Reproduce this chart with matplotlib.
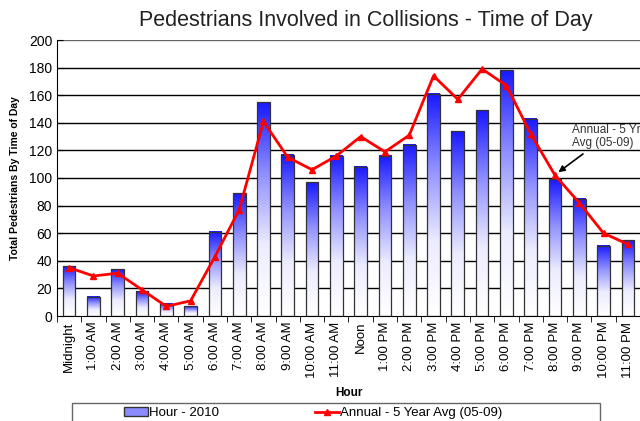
import numpy as np
import matplotlib
matplotlib.use("Agg")
import matplotlib.pyplot as plt
from matplotlib.colors import LinearSegmentedColormap
from matplotlib.patches import Patch, Rectangle

plt.rcParams['font.family'] = ['Liberation Sans', 'DejaVu Sans']

hours = ['Midnight', '1:00 AM', '2:00 AM', '3:00 AM', '4:00 AM', '5:00 AM',
         '6:00 AM', '7:00 AM', '8:00 AM', '9:00 AM', '10:00 AM', '11:00 AM',
         'Noon', '1:00 PM', '2:00 PM', '3:00 PM', '4:00 PM', '5:00 PM',
         '6:00 PM', '7:00 PM', '8:00 PM', '9:00 PM', '10:00 PM', '11:00 PM']
count_2010 = [36, 14, 34, 18, 9, 7, 61, 89, 155, 117, 97, 116,
              108, 116, 124, 161, 134, 149, 178, 143, 99, 85, 51, 55]
avg_05_09 = [35, 29, 31, 19, 7, 11, 43, 77, 141, 115, 106, 116,
             130, 119, 131, 174, 157, 179, 167, 132, 102, 82, 60, 52]

fig = plt.figure(figsize=(6.4, 4.21), dpi=100)
ax = fig.add_axes([57 / 640, 1 - 316 / 421, 583 / 640, 276 / 421])

x = np.arange(len(hours))
w = 0.52
grad = LinearSegmentedColormap.from_list('g', ['#ffffff', '#ececff', '#9090ff', '#1a1aff'])
img = np.linspace(0, 1, 100).reshape(-1, 1)

for yv in range(20, 201, 20):
    ax.axhline(yv, color='black' if yv < 200 else '#666666', lw=1, zorder=1)

for xi, h in zip(x, count_2010):
    ax.imshow(img, extent=[xi - w / 2, xi + w / 2, 0, h], origin='lower',
              cmap=grad, aspect='auto', zorder=2)
ax.bar(x, count_2010, width=w, facecolor='none', edgecolor='#333333', lw=0.9, zorder=3)
line, = ax.plot(x, avg_05_09, color='#ff0000', lw=2, marker='^', ms=4, zorder=4)

ax.set_xlim(-0.5, len(hours) - 0.5)
ax.set_ylim(0, 200)
ax.set_yticks(range(0, 201, 20))
ax.set_xticks(x)
ax.set_xticklabels(hours, rotation=90, fontsize=9.5)
ax.set_xticks(np.arange(-0.5, len(hours), 1), minor=True)
ax.tick_params(axis='x', which='major', length=0, pad=4)
ax.tick_params(axis='x', which='minor', length=4, color='black')
ax.tick_params(axis='y', labelsize=10, length=4, direction='in')
for s in ['top', 'right']:
    ax.spines[s].set_visible(False)

ax.set_xlabel('Hour', fontsize=8.5, fontweight='bold', labelpad=6)
ax.set_ylabel('Total Pedestrians By Time of Day', fontsize=7.5, fontweight='bold', labelpad=6)
fig.text(366 / 640, 0.952, 'Pedestrians Involved in Collisions - Time of Day',
         ha='center', va='center', fontsize=15.5, color='#222222')

ax.annotate('Annual - 5 Yr\nAvg (05-09)', xy=(20.05, 103), xytext=(20.7, 130),
            fontsize=8.5, ha='left', va='center', color='#333333',
            arrowprops=dict(arrowstyle='-|>', color='black', lw=1.2, mutation_scale=9))

# legend frame drawn by hand so it spans the reference width
fig.patches.append(Rectangle((72 / 640, -0.02), 528 / 640, 1 - 403 / 421 + 0.02,
                             transform=fig.transFigure, facecolor='white',
                             edgecolor='#666666', lw=1))
leg_patch = Patch(facecolor='#8c8cff', edgecolor='#333333')
fig.legend([leg_patch, line], ['Hour - 2010', 'Annual - 5 Year Avg (05-09)'],
           loc='upper left', bbox_to_anchor=(124 / 640, 1 - 407 / 421), ncol=2, fontsize=9.5,
           frameon=False, columnspacing=7.3, borderaxespad=0, borderpad=0,
           handlelength=1.8, handletextpad=0.1)

fig.savefig('out.png', dpi=100)
